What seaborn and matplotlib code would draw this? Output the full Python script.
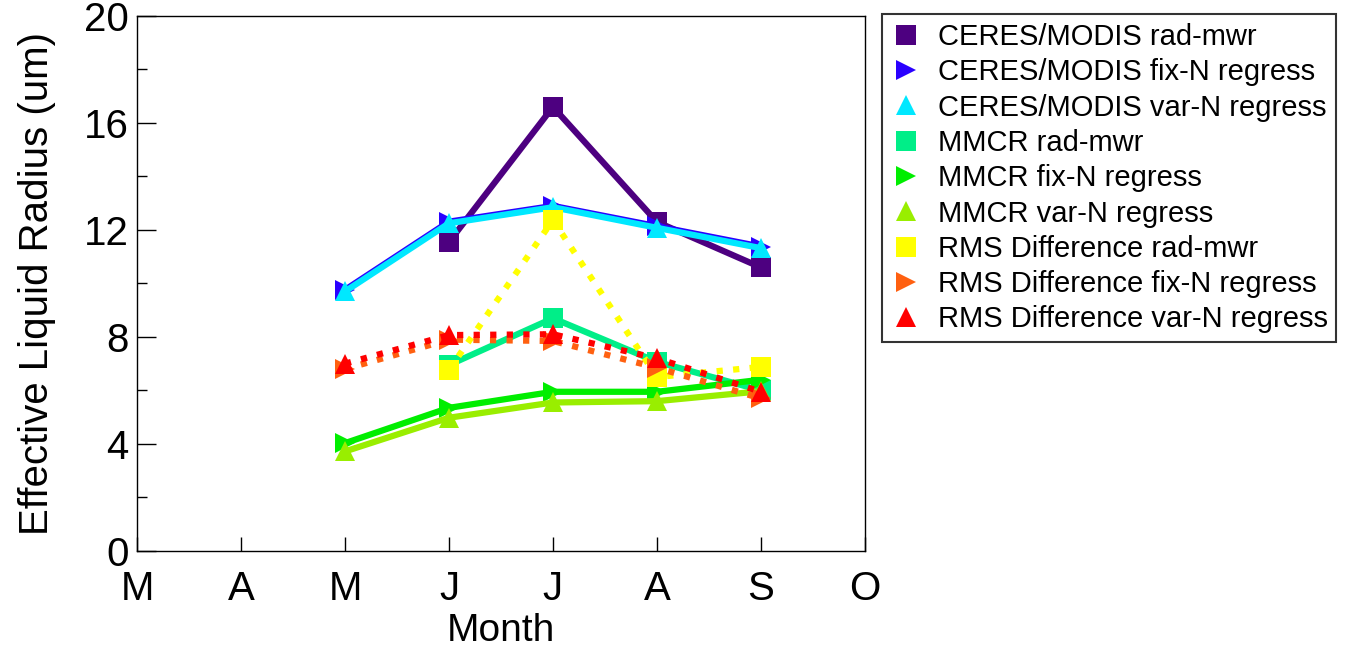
import numpy as np
import pandas as pd
import seaborn as sns
import matplotlib.pyplot as plt
from matplotlib.lines import Line2D

# months: 3=Mar ... 10=Oct
month_ticks = [3, 4, 5, 6, 7, 8, 9, 10]
month_labels = ["M", "A", "M", "J", "J", "A", "S", "O"]
months = [5, 6, 7, 8, 9]

ceres_rad = [np.nan, 11.55, 16.6, 12.3, 10.6]
ceres_fix = [9.76, 12.31, 12.9, 12.14, 11.38]
ceres_var = [9.7, 12.25, 12.85, 12.08, 11.32]
mmcr_rad = [np.nan, 6.95, 8.7, 7.07, 6.0]
mmcr_fix = [4.03, 5.35, 5.95, 5.95, 6.4]
mmcr_var = [3.72, 4.98, 5.55, 5.6, 5.97]
rms_rad = [np.nan, 6.77, 12.37, 6.5, 6.88]
rms_fix = [6.8, 7.9, 7.85, 6.85, 5.7]
rms_var = [7.0, 8.07, 8.1, 7.2, 5.95]

labels = ["CERES/MODIS rad-mwr", "CERES/MODIS fix-N regress", "CERES/MODIS var-N regress",
          "MMCR rad-mwr", "MMCR fix-N regress", "MMCR var-N regress",
          "RMS Difference rad-mwr", "RMS Difference fix-N regress", "RMS Difference var-N regress"]
series = [ceres_rad, ceres_fix, ceres_var, mmcr_rad, mmcr_fix, mmcr_var, rms_rad, rms_fix, rms_var]
colors = ["#4d0080", "#2a00ff", "#00e8ff", "#00ee88", "#00ee00", "#99ee00",
          "#ffff00", "#ff6010", "#ff0000"]
markers = ["s", ">", "^", "s", ">", "^", "s", ">", "^"]
styles = ["-", "-", "-", "-", "-", "-", ":", ":", ":"]

sns.set_style("white")
plt.rcParams['font.family'] = ['Liberation Sans', 'DejaVu Sans']
plt.rcParams['text.color'] = 'black'
plt.rcParams['axes.labelcolor'] = 'black'
plt.rcParams['xtick.color'] = 'black'
plt.rcParams['ytick.color'] = 'black'

fig = plt.figure(figsize=(13.51, 6.52), dpi=100)
ax = fig.add_axes([0.1014, 0.155, 0.5388, 0.8205])

handles = []
for lab, vals, col, mk, ls in zip(labels, series, colors, markers, styles):
    df = pd.DataFrame({"month": months, "val": vals}).dropna()
    sns.lineplot(data=df, x="month", y="val", ax=ax, color=col, linewidth=4.5,
                 linestyle=ls, marker=mk, markersize=14, markeredgewidth=0)
    handles.append(Line2D([], [], linestyle="none", marker=mk, color=col,
                          markersize=15, markeredgewidth=0))

ax.set_xlim(3, 10)
ax.set_ylim(0, 20)
ax.set_xticks(month_ticks)
ax.set_xticklabels(month_labels)
ax.set_yticks([0, 4, 8, 12, 16, 20])
ax.set_yticks([2, 6, 10, 14, 18], minor=True)
ax.tick_params(axis="x", direction="in", length=10, width=1, pad=14, labelsize=29,
               bottom=True, top=False, colors="black")
ax.tick_params(axis="y", which="major", direction="in", length=14, width=1, pad=6,
               labelsize=29, left=True, right=False, colors="black")
ax.tick_params(axis="y", which="minor", direction="in", length=7, width=1, left=True,
               colors="black")
for sp in ax.spines.values():
    sp.set_color("black")
    sp.set_linewidth(1)
ax.set_xlabel("Month", fontsize=28, labelpad=3, color="black")
ax.set_ylabel("Effective Liquid Radius (um)", fontsize=29, labelpad=20, color="black")

leg = fig.legend(handles, labels, loc="upper left", bbox_to_anchor=(0.653, 0.978),
                 fontsize=21, frameon=True, fancybox=False, edgecolor="black",
                 handlelength=1.0, handletextpad=0.6, labelspacing=0.25,
                 borderpad=0.3, borderaxespad=0)
leg.get_frame().set_linewidth(1.5)
for t in leg.get_texts():
    t.set_color("black")

fig.savefig("out.png", dpi=100)
